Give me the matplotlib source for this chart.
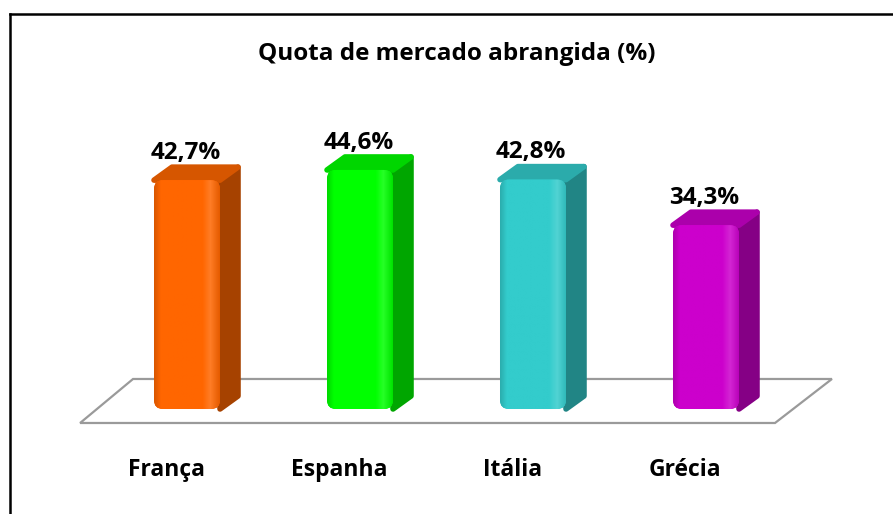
import numpy as np
import matplotlib.pyplot as plt
from matplotlib.patches import FancyBboxPatch, Polygon
from matplotlib.lines import Line2D
from matplotlib.colors import to_rgb

paises = ['França', 'Espanha', 'Itália', 'Grécia']
quota = [42.7, 44.6, 42.8, 34.3]
rotulos = ['42,7%', '44,6%', '42,8%', '34,3%']
cores = ['#FF6600', '#00FF00', '#33CCCC', '#CC00CC']

plt.rcParams['font.family'] = ['Open Sans', 'DejaVu Sans']

fig = plt.figure(figsize=(8.93, 5.14), dpi=100)
ax = fig.add_axes([0, 0, 1, 1])
xmin, xmax = -1.081, 4.081
ymin, ymax = -19.59, 76.31
ax.axis('off')

# tamanho de um pixel em unidades de dados
px_x = (xmax - xmin) / 893
px_y = (ymax - ymin) / 514

larg = 66 * px_x          # largura da face frontal
dx, dy = 18 * px_x, 13 * px_y   # profundidade 3D
raio = 9 * px_x

# chão em perspectiva
chao = Polygon([(-0.618, -2.61), (-0.312, 5.6), (3.728, 5.6), (3.399, -2.61)],
               closed=True, fc='white', ec='#9a9a9a', lw=1.6, zorder=1)
ax.add_patch(chao)


def clarear(c, f):
    c = np.array(c)
    return c + (1 - c) * f


def escurecer(c, f):
    return np.array(c) * f


t = np.linspace(0, 1, 80)
for i, (v, cor, rot) in enumerate(zip(quota, cores, rotulos)):
    base = np.array(to_rgb(cor))
    x0, x1 = i - larg / 2, i + larg / 2

    lado = Polygon([(x1, 0), (x1 + dx, dy), (x1 + dx, v + dy), (x1, v)],
                   closed=True, fc=escurecer(base, 0.65), ec=escurecer(base, 0.65),
                   lw=4, joinstyle='round', zorder=2)
    topo = Polygon([(x0, v), (x0 + dx, v + dy), (x1 + dx, v + dy), (x1, v)],
                   closed=True, fc=escurecer(base, 0.84), ec=escurecer(base, 0.84),
                   lw=4, joinstyle='round', zorder=2)
    ax.add_patch(lado)
    ax.add_patch(topo)

    frente = FancyBboxPatch((x0, 0), larg, v,
                            boxstyle=f"round,pad=0,rounding_size={raio}",
                            mutation_aspect=px_y / px_x,
                            fc=cor, ec='none', zorder=3)
    ax.add_patch(frente)

    # sombreado horizontal da face frontal
    grad = np.empty((1, len(t), 3))
    for k, tt in enumerate(t):
        if tt < 0.1:
            c = escurecer(base, 0.85 + 0.15 * tt / 0.1)
        elif tt < 0.74:
            c = base
        elif tt < 0.86:
            c = clarear(base, 0.15 * (tt - 0.74) / 0.12)
        else:
            c = escurecer(clarear(base, 0.15 * (1 - (tt - 0.86) / 0.14)),
                          1 - 0.1 * (tt - 0.86) / 0.14)
        grad[0, k] = np.clip(c, 0, 1)
    im = ax.imshow(grad, extent=[x0, x1, 0, v], aspect='auto',
                   interpolation='bilinear', zorder=3.5)
    im.set_clip_path(frente)

    ax.text(i - 0.01, v + dy + 0.4, rot, ha='center', va='bottom',
            fontsize=17.5, fontweight='bold', color='black', zorder=5)
    ax.text(i - 0.12, -11.4, paises[i], ha='center', va='center',
            fontsize=16.5, fontweight='bold', color='black', zorder=5)

ax.set_xlim(xmin, xmax)
ax.set_ylim(ymin, ymax)

fig.text(0.511, 1 - 54 / 514, 'Quota de mercado abrangida (%)', ha='center',
         va='center', fontsize=17.5, fontweight='bold')

# moldura (só esquerda e topo ficam visíveis)
fig.add_artist(Line2D([9.5 / 893, 9.5 / 893], [0, 1 - 13.5 / 514],
                      transform=fig.transFigure, color='black', lw=1.8))
fig.add_artist(Line2D([9.5 / 893, 1], [1 - 13.5 / 514, 1 - 13.5 / 514],
                      transform=fig.transFigure, color='black', lw=1.8))

fig.savefig('out.png', dpi=100, facecolor='white')
